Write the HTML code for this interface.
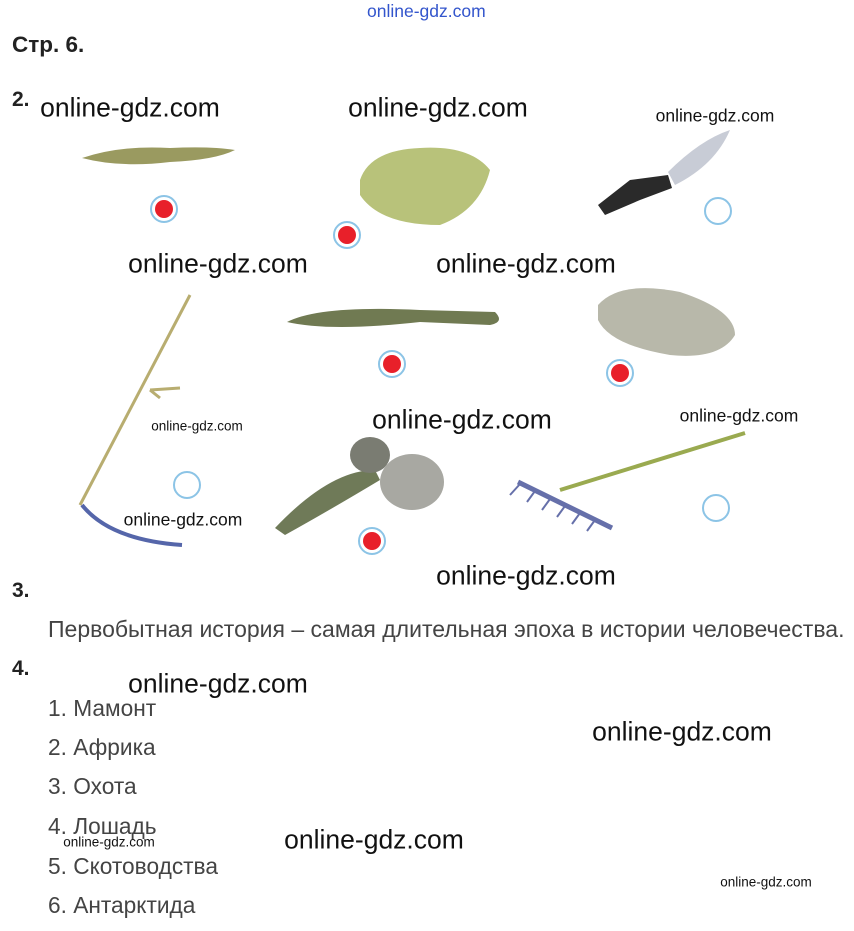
<!DOCTYPE html>
<html><head><meta charset="utf-8">
<style>
body{margin:0;width:854px;height:931px;background:#fff;position:relative;overflow:hidden;font-family:"Liberation Sans",sans-serif}
.a{position:absolute;white-space:nowrap}
.wm{position:absolute;white-space:nowrap;color:#111;font-size:26.5px;transform:translate(-50%,-50%)}
.ws{position:absolute;white-space:nowrap;color:#111;font-size:17.5px;transform:translate(-50%,-50%)}
.b{font-weight:bold;color:#222;font-size:21px}
.c{position:absolute;width:28px;height:28px;border-radius:50%;border:2px solid #8cc4e6;transform:translate(-50%,-50%);box-sizing:border-box;background:#fff}
.r::after{content:"";position:absolute;left:3px;top:3px;width:18px;height:18px;border-radius:50%;background:#e8202a}
.t{color:#444;font-size:22.7px}
</style></head><body>
<div class="a" style="left:367px;top:1px;color:#3355cc;font-size:17.5px">online-gdz.com</div>
<div class="a b" style="left:12px;top:32px;font-size:22.5px">Стр. 6.</div>
<div class="a b" style="left:12px;top:88px">2.</div>
<svg class="a" style="left:0;top:0" width="854" height="600">
<path d="M82 158 Q120 145 170 148 Q210 146 235 150 Q215 160 170 162 Q120 168 82 158Z" fill="#9a9a60"/>
<path d="M360 180 Q370 150 420 148 Q470 145 490 170 Q480 210 440 225 Q380 225 360 195Z" fill="#b8c27a"/>
<path d="M598 205 L630 180 L668 175 L672 188 L640 200 L605 215Z" fill="#2a2a2a"/>
<path d="M668 172 Q700 140 730 130 Q715 165 675 185Z" fill="#c8ccd6"/>
<path d="M80 505 L190 295" stroke="#b8ad70" stroke-width="3"/>
<path d="M150 390 L180 388 M150 390 L160 398" stroke="#b8ad70" stroke-width="3"/>
<path d="M82 505 Q110 540 182 545" stroke="#5566aa" stroke-width="4" fill="none"/>
<path d="M287 322 Q320 305 420 310 L495 312 Q505 322 490 325 L420 322 Q330 332 287 322Z" fill="#707a52"/>
<path d="M598 305 Q620 280 680 292 Q735 310 735 335 Q720 360 670 355 Q610 345 598 320Z" fill="#b8b8aa"/>
<path d="M275 528 Q330 470 375 470 L380 480 Q330 510 285 535Z" fill="#6f7a58"/>
<ellipse cx="370" cy="455" rx="20" ry="18" fill="#7a7c72"/>
<ellipse cx="412" cy="482" rx="32" ry="28" fill="#a8a8a2"/>
<path d="M560 490 L745 433" stroke="#9aaa50" stroke-width="4"/>
<path d="M518 482 L612 528" stroke="#6670aa" stroke-width="5"/>
<path d="M520 484 L510 495 M535 491 L527 502 M550 499 L542 510 M565 506 L557 517 M580 513 L572 524 M595 520 L587 531" stroke="#6670aa" stroke-width="2"/>
</svg>
<div class="c r" style="left:164px;top:209px"></div>
<div class="c r" style="left:347px;top:235px"></div>
<div class="c" style="left:718px;top:211px"></div>
<div class="c r" style="left:392px;top:364px"></div>
<div class="c r" style="left:620px;top:373px"></div>
<div class="c" style="left:187px;top:485px"></div>
<div class="c r" style="left:372px;top:541px"></div>
<div class="c" style="left:716px;top:508px"></div>
<div class="wm" style="left:130px;top:108px">online-gdz.com</div>
<div class="wm" style="left:438px;top:108px">online-gdz.com</div>
<div class="ws" style="left:715px;top:116px">online-gdz.com</div>
<div class="wm" style="left:218px;top:264px">online-gdz.com</div>
<div class="wm" style="left:526px;top:264px">online-gdz.com</div>
<div class="wm" style="left:462px;top:420px">online-gdz.com</div>
<div class="ws" style="left:739px;top:416px">online-gdz.com</div>
<div class="ws" style="left:197px;top:426px;font-size:13.5px">online-gdz.com</div>
<div class="ws" style="left:183px;top:520px">online-gdz.com</div>
<div class="wm" style="left:526px;top:576px">online-gdz.com</div>
<div class="a b" style="left:12px;top:579px">3.</div>
<div class="a t" style="left:48px;top:616px;font-size:23px">Первобытная история – самая длительная эпоха в истории человечества.</div>
<div class="a b" style="left:12px;top:657px">4.</div>
<div class="wm" style="left:218px;top:684px">online-gdz.com</div>
<div class="wm" style="left:682px;top:732px">online-gdz.com</div>
<div class="wm" style="left:374px;top:840px">online-gdz.com</div>
<div class="ws" style="left:109px;top:842px;font-size:13.5px">online-gdz.com</div>
<div class="ws" style="left:766px;top:882px;font-size:13.5px">online-gdz.com</div>
<div class="a t" style="left:48px;top:695px">1. Мамонт</div>
<div class="a t" style="left:48px;top:734px">2. Африка</div>
<div class="a t" style="left:48px;top:773px">3. Охота</div>
<div class="a t" style="left:48px;top:813px">4. Лошадь</div>
<div class="a t" style="left:48px;top:853px">5. Скотоводства</div>
<div class="a t" style="left:48px;top:892px">6. Антарктида</div>
</body></html>
